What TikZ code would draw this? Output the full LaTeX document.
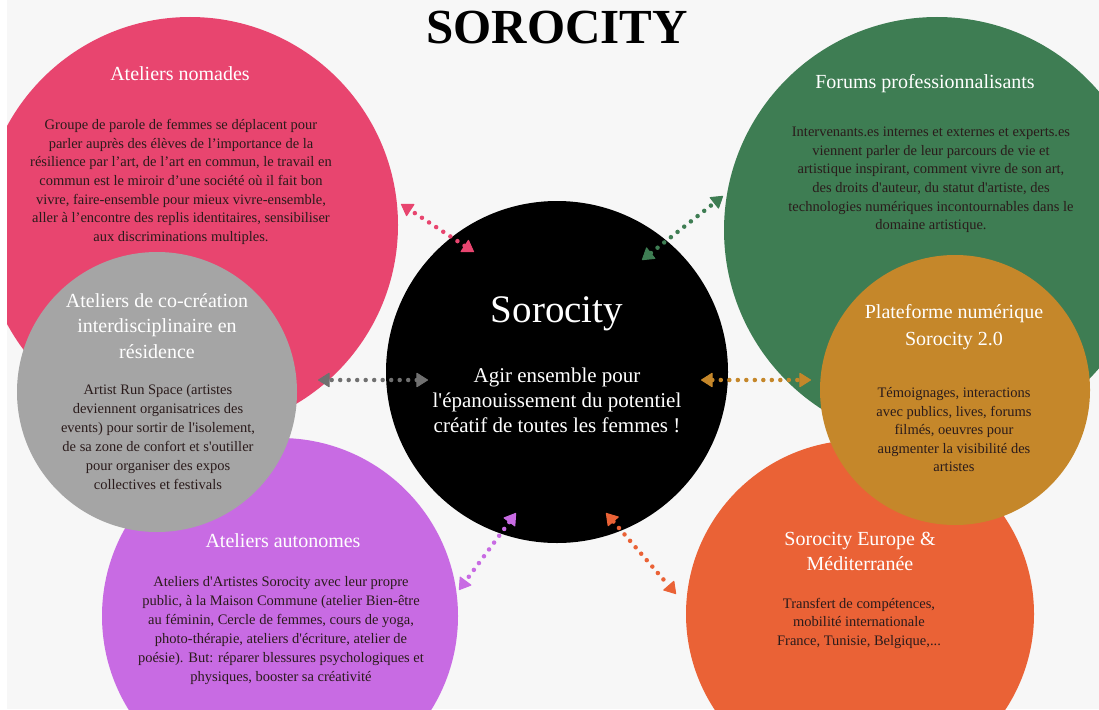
\documentclass[tikz,border=0pt]{standalone}
\usepackage{fontspec}
\setmainfont{Liberation Serif}
\usetikzlibrary{arrows.meta,calc}
\definecolor{bgc}{HTML}{F7F7F7}
\definecolor{pinkc}{HTML}{E8456F}
\definecolor{grayc}{HTML}{A5A5A5}
\definecolor{grayl}{HTML}{707070}
\definecolor{greenc}{HTML}{3E7D53}
\definecolor{ochrec}{HTML}{C5872A}
\definecolor{purplec}{HTML}{C86BE3}
\definecolor{orangec}{HTML}{EA6236}
\definecolor{textdark}{HTML}{2A1B1B}
\newcommand{\ap}{\textquotesingle}

\begin{document}
\begin{tikzpicture}[x=1pt,y=-1pt,
		bubble/.style={circle, inner sep=0pt, outer sep=0pt, minimum size=#1},
		headtxt/.style={white, align=center, inner sep=0pt, font=\fontsize{20}{25.5}\selectfont},
		bodytxt/.style={textdark, align=center, inner sep=0pt, font=\fontsize{14.5}{18.7}\selectfont},
		link/.style={#1, line width=4.5pt, line cap=round, dash pattern=on 0pt off 8.5pt,
			{Triangle[length=12pt,width=15pt,line width=1pt,round]}-{Triangle[length=12pt,width=15pt,line width=1pt,round]}}]
	\useasboundingbox (0,0) rectangle (1099,709);
	\fill[white] (0,0) rectangle (1099,709);
	\clip (7,0) rectangle (1099,709);
	\fill[bgc] (7,0) rectangle (1099,709);

	\node[bubble=416pt, fill=pinkc] (nomades) at (190,225) {};
	\node[bubble=356pt, fill=purplec] (autonomes) at (280,616) {};
	\node[bubble=280pt, fill=grayc] (residence) at (157,392) {};
	\node[bubble=342pt, fill=black] (sorocity) at (557,372) {};
	\node[bubble=426pt, fill=greenc] (forums) at (937,230) {};
	\node[bubble=348pt, fill=orangec] (europe) at (860,614) {};
	\node[bubble=270pt, fill=ochrec] (plateforme) at (955,390) {};

	\draw[link=pinkc] ($(sorocity)+(-83,-120)$) -- ($(nomades)+(211,-21)$);
	\draw[link=greenc] ($(sorocity)+(85,-112)$) -- ($(forums)+(-214,-34)$);
	\draw[link=grayl] ($(sorocity)+(-129,8)$) -- ($(residence)+(161,-12)$);
	\draw[link=ochrec] ($(sorocity)+(144,8)$) -- ($(plateforme)+(-144,-10)$);
	\draw[link=purplec] ($(sorocity)+(-41,141)$) -- ($(autonomes)+(179,-26)$);
	\draw[link=orangec] ($(sorocity)+(49,141)$) -- ($(europe)+(-184,-20)$);

	\node[inner sep=0pt, font=\fontsize{49}{49}\selectfont\bfseries] (title) at (557,28) {SOROCITY};

	\node[headtxt] (nomadesT) at (180,73.5) {Ateliers nomades};
	\node[bodytxt] (nomadesB) at (181,182) {Groupe de parole de femmes se déplacent pour\\
		parler auprès des élèves de l'importance de la\\
		résilience par l'art, de l'art en commun, le travail en\\
		commun est le miroir d'une société où il fait bon\\
		vivre, faire-ensemble pour mieux vivre-ensemble,\\
		aller à l'encontre des replis identitaires, sensibiliser\\
		aux discriminations multiples.};

	\node[headtxt] (residenceT) at (157,326) {Ateliers de co-création\\interdisciplinaire en\\résidence};
	\node[bodytxt, font=\fontsize{14.5}{19}\selectfont] (residenceB) at (158,437) {Artist Run Space (artistes\\
		deviennent organisatrices des\\
		events) pour sortir de l\ap isolement,\\
		de sa zone de confort et s\ap outiller\\
		pour organiser des expos\\
		collectives et festivals};

	\node[white, inner sep=0pt, font=\fontsize{39}{39}\selectfont] (sorocityT) at (557,313.5) {Sorocity};
	\node[white, align=center, inner sep=0pt, font=\fontsize{21}{25}\selectfont] (sorocityB) at (557,400) {Agir ensemble pour\\
		l\ap épanouissement du potentiel\\
		créatif de toutes les femmes !};

	\node[headtxt] (forumsT) at (925,83.5) {Forums professionnalisants};
	\node[bodytxt, font=\fontsize{14.5}{18.6}\selectfont] (forumsB) at (931,180) {Intervenants.es internes et externes et experts.es\\
		viennent parler de leur parcours de vie et\\
		artistique inspirant, comment vivre de son art,\\
		des droits d\ap auteur, du statut d\ap artiste, des\\
		technologies numériques incontournables dans le\\
		domaine artistique.};

	\node[headtxt, font=\fontsize{20}{27}\selectfont] (plateformeT) at (954,327) {Plateforme numérique\\Sorocity 2.0};
	\node[bodytxt, font=\fontsize{14.5}{18.5}\selectfont] (plateformeB) at (954,430) {Témoignages, interactions\\
		avec publics, lives, forums\\
		filmés, oeuvres pour\\
		augmenter la visibilité des\\
		artistes};

	\node[headtxt] (autonomesT) at (283,540.5) {Ateliers autonomes};
	\node[bodytxt, font=\fontsize{14.5}{19}\selectfont] (autonomesB) at (281,631) {Ateliers d\ap Artistes Sorocity avec leur propre\\
		public, à la Maison Commune (atelier Bien-être\\
		au féminin, Cercle de femmes, cours de yoga,\\
		photo-thérapie, ateliers d\ap écriture, atelier de\\
		poésie). But: réparer blessures psychologiques et\\
		physiques, booster sa créativité};

	\node[headtxt, font=\fontsize{20}{24.5}\selectfont] (europeT) at (860,551.5) {Sorocity Europe \&\\Méditerranée};
	\node[bodytxt, font=\fontsize{14.5}{18.5}\selectfont] (europeB) at (859,623) {Transfert de compétences,\\
		mobilité internationale\\
		France, Tunisie, Belgique,...};
\end{tikzpicture}
\end{document}
